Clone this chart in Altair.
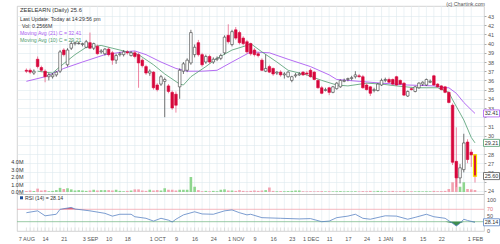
import json
import altair as alt
import pandas as pd

FONT = "Liberation Sans"

# ---------------- data ----------------
opens = [37.1, 37.1, 36.8, 38.3, 37.4, 37.0, 36.4, 36.4, 36.6, 37.0,
         39.3, 37.7, 39.5, 40.0, 40.0, 39.9, 39.6, 40.1, 39.5, 39.7,
         39.1, 38.9, 39.4, 39.0, 38.2, 38.8, 38.8, 39.1, 38.7, 39.0,
         38.8, 38.2, 37.5, 36.8, 36.9, 35.5, 35.6, 35.9, 35.4, 34.7,
         34.5, 35.3, 37.0, 37.1, 37.9, 38.8, 40.1, 38.8, 38.0, 38.6,
         38.0, 38.3, 38.4, 39.0, 40.9, 39.9, 41.5, 41.2, 40.6, 40.2,
         40.0, 39.3, 38.9, 38.2, 37.0, 37.5, 37.3, 36.8, 36.9, 36.6,
         36.4, 36.0, 36.5, 36.6, 36.9, 36.8, 37.1, 36.9, 36.0, 35.2,
         34.9, 35.2, 34.7, 35.1, 35.3, 35.9, 36.1, 36.2, 36.4, 36.5,
         36.4, 35.5, 35.3, 34.9, 34.9, 35.5, 36.0, 36.1, 36.1, 36.4,
         36.0, 35.7, 34.3, 35.1, 34.8, 35.2, 35.6, 35.5, 35.8, 36.5,
         35.6, 35.4, 35.3, 34.7, 33.3, 27.2, 25.4, 26.3, 29.3, 28.2,
         27.9]
highs = [37.3, 37.3, 37.2, 38.6, 37.6, 37.2, 36.8, 36.8, 37.0, 39.3,
         39.5, 39.5, 40.3, 40.2, 40.2, 40.1, 40.4, 41.2, 40.1, 39.9,
         39.4, 39.5, 39.6, 39.2, 38.9, 39.1, 39.3, 39.3, 39.2, 39.2,
         39.0, 38.4, 37.7, 37.2, 37.0, 35.7, 36.6, 36.3, 35.6, 34.9,
         34.8, 37.3, 38.0, 38.4, 41.5, 39.9, 40.4, 39.0, 38.8, 38.8,
         38.5, 38.6, 38.9, 40.9, 42.1, 41.5, 41.8, 41.4, 40.8, 40.4,
         40.1, 39.5, 39.1, 38.4, 38.8, 37.7, 37.4, 37.0, 37.1, 36.9,
         37.0, 36.5, 36.8, 36.9, 37.0, 37.0, 37.3, 37.0, 36.1, 35.4,
         35.2, 35.3, 35.4, 35.8, 36.1, 36.2, 36.3, 36.5, 37.0, 36.7,
         36.6, 35.7, 35.4, 35.2, 35.7, 36.2, 36.3, 36.3, 36.2, 36.5,
         36.1, 35.8, 34.9, 35.2, 35.4, 35.8, 35.9, 36.2, 36.1, 36.6,
         35.7, 35.5, 35.4, 34.8, 33.5, 30.9, 26.9, 30.2, 29.6, 28.5,
         28.0]
lows = [36.8, 36.7, 36.6, 37.3, 36.9, 35.8, 36.0, 36.2, 36.4, 36.8,
        38.6, 37.5, 39.3, 39.8, 39.9, 39.7, 39.5, 39.4, 39.3, 38.8,
        38.9, 38.7, 38.6, 37.7, 37.8, 38.6, 38.6, 38.8, 38.6, 38.4,
        35.2, 37.4, 36.6, 36.5, 35.0, 34.8, 35.4, 32.0, 34.6, 32.8,
        32.5, 34.0, 36.7, 36.9, 37.7, 38.5, 38.6, 37.5, 37.8, 37.8,
        37.8, 38.1, 38.2, 38.8, 40.0, 39.7, 40.4, 39.9, 39.8, 38.9,
        38.7, 38.6, 38.5, 37.0, 36.9, 36.8, 36.5, 36.6, 36.4, 36.2,
        36.3, 35.8, 36.3, 36.5, 36.5, 36.5, 36.3, 36.0, 35.1, 34.5,
        34.8, 34.4, 34.6, 35.0, 35.2, 35.8, 35.9, 36.0, 36.2, 36.3,
        35.1, 34.9, 34.3, 34.7, 34.8, 35.4, 35.8, 35.7, 35.5, 35.4,
        35.5, 34.3, 34.2, 34.9, 34.7, 35.1, 35.4, 35.4, 35.7, 35.4,
        35.2, 34.9, 34.6, 33.5, 26.8, 24.4, 24.8, 26.0, 27.0, 26.6,
        24.9]
closes = [37.0, 36.9, 37.0, 37.5, 37.1, 36.4, 36.6, 36.6, 36.9, 39.1,
          38.8, 39.3, 40.0, 40.1, 40.05, 40.0, 40.2, 39.5, 40.0, 38.9,
          39.2, 39.4, 38.8, 38.2, 38.7, 38.9, 39.1, 39.0, 39.0, 38.6,
          37.9, 37.6, 36.8, 37.0, 35.2, 35.0, 36.4, 36.1, 34.8, 33.0,
          33.3, 37.1, 37.8, 38.2, 41.2, 39.6, 38.8, 37.7, 38.6, 38.0,
          38.3, 38.4, 38.7, 40.7, 40.2, 41.3, 40.6, 40.1, 40.0, 39.1,
          38.9, 38.8, 38.7, 37.1, 37.3, 36.9, 36.7, 36.9, 36.6, 36.7,
          36.9, 36.4, 36.6, 36.7, 36.6, 36.7, 36.4, 36.1, 35.2, 34.6,
          35.0, 34.7, 35.3, 35.7, 36.0, 36.0, 36.2, 36.3, 36.6, 36.4,
          35.2, 35.0, 34.6, 35.0, 35.6, 36.0, 36.1, 35.8, 35.6, 35.5,
          35.6, 34.4, 34.8, 35.0, 35.3, 35.7, 35.8, 36.1, 35.9, 35.5,
          35.3, 35.0, 34.7, 33.6, 27.1, 25.4, 26.5, 29.2, 27.4, 27.9,
          25.6]
volumes = [0.15, 0.2, 0.12, 0.45, 0.2, 0.25, 0.1, 0.15, 0.25, 0.55,
           0.4, 0.5, 0.35, 0.2, 0.25, 0.2, 0.15, 0.2, 0.3, 0.2,
           0.25, 0.25, 0.25, 0.2, 0.3, 0.15, 0.1, 0.15, 0.2, 0.35,
           0.35, 0.2, 0.15, 0.3, 0.2, 0.25, 0.2, 0.5, 0.3, 0.3,
           0.2, 0.3, 0.3, 0.3, 2.0, 0.7, 0.25, 0.1, 0.15, 0.1,
           0.15, 0.1, 0.3, 0.35, 0.2, 0.2, 0.15, 0.25, 0.15, 0.1,
           0.15, 0.2, 0.15, 0.2, 0.25, 0.6, 0.15, 0.1, 0.12, 0.1,
           0.12, 0.15, 0.2, 0.2, 0.1, 0.08, 0.1, 0.08, 0.1, 0.12,
           0.08, 0.1, 0.08, 0.1, 0.12, 0.08, 0.1, 0.08, 0.1, 0.08,
           0.12, 0.1, 0.15, 0.08, 0.15, 0.1, 0.08, 0.1, 0.15, 0.08,
           0.1, 0.15, 0.08, 0.1, 0.08, 0.1, 0.08, 0.1, 0.08, 0.15,
           0.1, 0.12, 0.15, 0.4, 1.3, 2.4, 0.7, 1.3, 0.4, 0.35,
           0.26]

ma21_idx = [0, 5, 10, 15, 21, 26, 29, 32, 36, 40, 43, 47, 51, 55, 60, 65, 70,
            76, 81, 83, 89, 95, 102, 109, 112, 113, 115, 117, 119, 120]
ma21_val = [35.9, 36.4, 37.3, 38.0, 38.8, 39.1, 39.2, 38.8, 38.0, 37.3, 37.0,
            37.0, 37.1, 38.0, 39.1, 39.0, 38.3, 37.5, 36.6, 36.1, 35.9, 35.7,
            35.5, 35.4, 35.2, 35.2, 34.6, 33.6, 32.8, 32.41]
ma10_idx = [3, 7, 9, 13, 16, 20, 23, 27, 30, 34, 37, 41, 42, 44, 48, 51, 55,
            59, 60, 63, 67, 70, 75, 79, 83, 86, 91, 95, 99, 104, 107, 110,
            113, 114, 117, 119, 120]
ma10_val = [37.0, 36.8, 37.5, 38.8, 39.6, 39.8, 39.5, 39.1, 38.8, 37.7, 36.7,
            35.6, 35.5, 36.4, 37.5, 38.4, 39.3, 39.8, 40.0, 39.1, 38.0, 37.1,
            36.6, 36.0, 35.5, 35.4, 35.7, 35.6, 35.4, 35.2, 35.2, 35.2, 34.7,
            33.9, 31.7, 29.8, 29.21]
rsi_idx = [0, 3, 5, 8, 9, 12, 13, 17, 21, 23, 25, 28, 29, 32, 34, 36, 38, 39,
           40, 42, 45, 47, 50, 53, 55, 57, 59, 60, 63, 68, 73, 76, 79, 81, 83,
           86, 88, 90, 92, 96, 99, 102, 104, 107, 109, 112, 114, 115, 116, 117,
           118, 120]
rsi_val = [59, 65, 49, 54, 70, 76, 71, 65, 57, 48, 54, 54, 46, 41, 32, 41, 35,
           29, 38, 52, 62, 55, 54, 65, 68, 59, 52, 54, 43, 41, 39, 40, 30, 32,
           43, 48, 54, 41, 38, 49, 48, 38, 44, 54, 46, 41, 25, 16, 25, 38, 34,
           28.14]

x_label_idx = [0, 5, 10, 17, 22, 27, 35, 40, 45, 50, 56, 61, 66, 71, 76, 81,
               86, 91, 96, 101, 106, 111, 120]
x_label_text = ["7 AUG", "14", "21", "3 SEP", "10", "18", "1 OCT", "9", "16",
                "24", "1 NOV", "9", "16", "23", "1 DEC", "11", "17", "24",
                "1 JAN", "8", "15", "22", "1 FEB"]
price_ticks = list(range(24, 44))
hidden_price_labels = [25, 29, 32]
rsi_ticks = [100, 70, 50, 0]
rsi_tick_text = ["100", "70", "50", "0"]
vol_ticks = [0, 1, 2, 3, 4]
vol_tick_text = ["0.0M", "1.0M", "2.0M", "3.0M", "4.0M"]
rsi_levels = [70, 30]
price_boxes = [32.41, 29.21, 25.60]
price_box_text = ["32.41", "29.21", "25.60"]
rsi_box = [28.14]
rsi_box_text = ["28.14"]

# ---------------- styles ----------------
W, H = 467, 225
RED = "#d6073c"
RED_WICK = "#e6507a"
DARK = "#3a3a3a"
VOL_UP = "#8fd68f"
VOL_DOWN = "#f2a2b0"
PURPLE = "#ad5cf2"
GREEN = "#4f9c6f"
RSI_BLUE = "#5a84c4"
GRID = "#dde9ef"
LABEL = "#555555"

xs = alt.Scale(domain=[-1.178, 121.07], nice=False, zero=False)
ps = alt.Scale(domain=[24, 43], range=[184.8, 10], nice=False, zero=False)
vs = alt.Scale(domain=[0, 4], range=[186, 156], nice=False, zero=False)
rs = alt.Scale(domain=[0, 100], range=[225, 194], nice=False, zero=False)

x_axis = alt.Axis(
    values=x_label_idx,
    labelExpr=f"{json.dumps(x_label_text)}[indexof({json.dumps(x_label_idx)}, datum.value)]",
    grid=False, ticks=False, domain=False, labelFontSize=5.5, labelColor=LABEL,
    labelFont=FONT, labelPadding=5, labelFlush=False, labelOverlap=False, title=None)
price_axis = alt.Axis(
    orient="right", values=price_ticks,
    labelExpr=f"indexof({json.dumps(hidden_price_labels)}, datum.value) >= 0 ? '' : datum.label",
    grid=True, gridColor=GRID, gridWidth=0.6, ticks=True, tickSize=2,
    tickColor="#aaaaaa", domain=False, labelFontSize=5.5, labelColor=LABEL,
    labelFont=FONT, labelPadding=1.5, labelFlush=False, labelOverlap=False, title=None)


def X(field):
    return alt.X(field, type="quantitative", scale=xs, axis=x_axis, title=None)


n = len(opens)
candles = pd.DataFrame({"i": list(range(n)), "o": opens, "h": highs, "l": lows,
                        "c": closes, "v": volumes})
down = [c < o for o, c in zip(opens, closes)]
candles["z"] = 0.0
candles["vcol"] = [VOL_DOWN if d else VOL_UP for d in down]
candles["wcol"] = [RED_WICK if d else DARK for d in down]
candles["bfill"] = [RED if d else "#ffffff" for d in down]
candles["bstroke"] = [RED if d else DARK for d in down]
last = candles.tail(1)

grid_x = pd.DataFrame({"g": list(range(1, n, 2))})
vgrid = alt.Chart(grid_x).mark_rule(color=GRID, strokeWidth=0.6).encode(
    x=X("g"), y=alt.value(0), y2=alt.value(H))

bottom_ticks = alt.Chart(candles).mark_rule(color="#c4c4c4", strokeWidth=0.5).encode(
    x=X("i"), y=alt.value(H - 3.5), y2=alt.value(H))

vol = alt.Chart(candles).mark_bar(width=2.6, orient="vertical").encode(
    x=X("i"), y=alt.Y("v:Q", scale=vs, axis=None, stack=None),
    y2="z:Q", color=alt.Color("vcol:N", scale=None))

ma21 = alt.Chart(pd.DataFrame({"i": ma21_idx, "m": ma21_val})).mark_line(
    color=PURPLE, strokeWidth=0.9).encode(x=X("i"), y=alt.Y("m:Q", scale=ps, axis=None))
ma10 = alt.Chart(pd.DataFrame({"i": ma10_idx, "m": ma10_val})).mark_line(
    color=GREEN, strokeWidth=0.8).encode(x=X("i"), y=alt.Y("m:Q", scale=ps, axis=None))

wicks = alt.Chart(candles).mark_rule(strokeWidth=0.7).encode(
    x=X("i"), y=alt.Y("l:Q", scale=ps, axis=price_axis), y2="h:Q",
    color=alt.Color("wcol:N", scale=None))

bodies = alt.Chart(candles).mark_bar(width=2.6, orient="vertical", strokeWidth=0.6).encode(
    x=X("i"), y=alt.Y("o:Q", scale=ps, axis=None), y2="c:Q",
    fill=alt.Fill("bfill:N", scale=None), stroke=alt.Stroke("bstroke:N", scale=None))

hilite = alt.Chart(last).mark_bar(width=3.0, orient="vertical", fill=RED,
                                  stroke="#f7e600", strokeWidth=1.2).encode(
    x=X("i"), y=alt.Y("o:Q", scale=ps, axis=None), y2="c:Q")

sep = alt.Chart(pd.DataFrame({"k": [0]})).mark_rule(color="#b0b0b0", strokeWidth=0.8).encode(
    x=alt.value(0), x2=alt.value(W), y=alt.value(188.5))

lv = pd.DataFrame({"v": rsi_levels, "col": ["#f2a6ae", "#80bb8e"]})
levels = alt.Chart(lv).mark_rule(strokeWidth=0.8).encode(
    x=alt.value(0), x2=alt.value(W), y=alt.Y("v:Q", scale=rs, axis=None),
    color=alt.Color("col:N", scale=None))

rsi_df = pd.DataFrame({"i": rsi_idx, "r": rsi_val})
rsi_lo = alt.Chart(rsi_df).transform_calculate(
    lo="min(datum.r, 30)", b="30").mark_area(color="#3f8d4f", orient="vertical").encode(
    x=X("i"), y=alt.Y("lo:Q", scale=rs, axis=None), y2="b:Q")
rsi_hi = alt.Chart(rsi_df).transform_calculate(
    hi="max(datum.r, 70)", b="70").mark_area(color="#e0607a", orient="vertical").encode(
    x=X("i"), y=alt.Y("hi:Q", scale=rs, axis=None), y2="b:Q")
rsi_line = alt.Chart(rsi_df).mark_line(color=RSI_BLUE, strokeWidth=0.8).encode(
    x=X("i"), y=alt.Y("r:Q", scale=rs, axis=None))

rsi_lab = alt.Chart(pd.DataFrame({
    "v": rsi_ticks, "t": rsi_tick_text,
    "col": [LABEL, "#e0707a", LABEL, LABEL]})).mark_text(
    align="left", baseline="middle", font=FONT, fontSize=5.5).encode(
    x=alt.value(W + 3), y=alt.Y("v:Q", scale=rs, axis=None), text="t:N",
    color=alt.Color("col:N", scale=None))

vol_lab = alt.Chart(pd.DataFrame({"v": vol_ticks, "t": vol_tick_text})).mark_text(
    align="right", baseline="middle", font=FONT, fontSize=5.5, color="#333333").encode(
    x=alt.value(6.5), y=alt.Y("v:Q", scale=vs, axis=None), text="t:N")

BOX = "M-1,-0.44L1,-0.44L1,0.44L-1,0.44Z"
pb = pd.DataFrame({"v": price_boxes, "t": price_box_text,
                   "col": [PURPLE, GREEN, "#555555"]})
pbox = alt.Chart(pb).mark_point(shape=BOX, size=256, filled=True, fill="white",
                                strokeWidth=0.8, opacity=1).encode(
    x=alt.value(W + 7.5), y=alt.Y("v:Q", scale=ps, axis=None),
    stroke=alt.Stroke("col:N", scale=None))
ptxt = alt.Chart(pb).mark_text(align="center", baseline="middle", font=FONT,
                               fontSize=5.5, color="#333333").encode(
    x=alt.value(W + 7.5), y=alt.Y("v:Q", scale=ps, axis=None), text="t:N")
rb = pd.DataFrame({"v": rsi_box, "t": rsi_box_text})
rbox = alt.Chart(rb).mark_point(shape=BOX, size=256, filled=True, fill="white",
                                stroke=RSI_BLUE, strokeWidth=0.8, opacity=1).encode(
    x=alt.value(W + 7.5), y=alt.Y("v:Q", scale=rs, axis=None))
rtxt = alt.Chart(rb).mark_text(align="center", baseline="middle", font=FONT,
                               fontSize=5.5, color="#333333").encode(
    x=alt.value(W + 7.5), y=alt.Y("v:Q", scale=rs, axis=None), text="t:N")


def txt(s, x, y, color="#333333", size=5.5, align="left"):
    return alt.Chart(pd.DataFrame({"t": [s]})).mark_text(
        align=align, baseline="middle", font=FONT, fontSize=size, color=color).encode(
        x=alt.value(x), y=alt.value(y), text="t:N")


header = [
    txt("ZEELEARN (Daily) 25.6", 3, 4, size=5.8),
    txt("Last Update: Today at 14:29:56 pm", 3, 13, size=5.2),
    txt("Vol: 0.2566M", 5, 19.5, size=5.2),
    txt("Moving Avg (21) C = 32.41", 3, 26.5, color=PURPLE, size=5.2),
    txt("Moving Avg (10) C = 29.21", 3, 34, color=GREEN, size=5.2),
    txt("(c) Chartink.com", W + 1, -2, color="#555555", size=5.3, align="right"),
    txt("RSI (14) = 28.14", 8, 191.8, color="#333333", size=5.2),
]
rsi_sq = alt.Chart(pd.DataFrame({"k": [0]})).mark_point(
    shape="square", filled=True, size=9, color="#1f4e9a", opacity=1).encode(
    x=alt.value(4.5), y=alt.value(191.8))

chart = alt.layer(
    vgrid, bottom_ticks, vol, ma21, ma10, wicks, bodies, hilite, sep, levels,
    rsi_hi, rsi_lo, rsi_line, rsi_lab, vol_lab, pbox, ptxt, rbox, rtxt,
    rsi_sq, *header
).resolve_scale(y="independent").properties(
    width=W, height=H,
    padding={"left": 17, "top": 6, "right": 16, "bottom": 13},
    autosize=alt.AutoSizeParams(type="none"),
    background="white",
).configure_view(stroke="#c8c8c8", strokeWidth=0.8)

chart.save("out.html", embed_options={"renderer": "svg", "actions": False})
